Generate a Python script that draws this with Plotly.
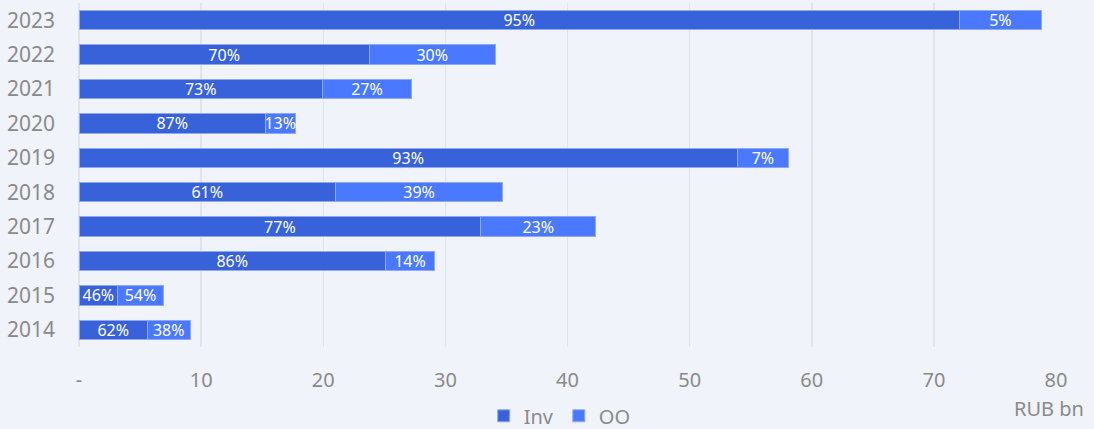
import plotly.graph_objects as go

years = ["2014", "2015", "2016", "2017", "2018", "2019", "2020", "2021", "2022", "2023"]
inv = [5.6, 3.17, 25.1, 32.9, 21.0, 53.9, 15.26, 19.93, 23.77, 72.1]
oo = [3.5, 3.72, 4.0, 9.4, 13.7, 4.2, 2.43, 7.3, 10.3, 6.7]
inv_pct = ["62%", "46%", "86%", "77%", "61%", "93%", "87%", "73%", "70%", "95%"]
oo_pct = ["38%", "54%", "14%", "23%", "39%", "7%", "13%", "27%", "30%", "5%"]
x_ticks = [0, 10, 20, 30, 40, 50, 60, 70, 80]
x_tick_labels = ["-", "10", "20", "30", "40", "50", "60", "70", "80"]

FONT = "Noto Sans"
GRAY = "#8a8a8a"
BG = "#F0F3FA"

fig = go.Figure()
fig.add_trace(go.Bar(
    y=years, x=inv, orientation="h", name="Inv",
    marker=dict(color="#3762D9", line=dict(color="#8FA9F0", width=1)),
    text=inv_pct, textposition="inside", insidetextanchor="middle",
    textfont=dict(color="white", size=16, family=FONT),
    hoverinfo="skip",
))
fig.add_trace(go.Bar(
    y=years, x=oo, orientation="h", name="OO",
    marker=dict(color="#4A78FF", line=dict(color="#8FA9F0", width=1)),
    text=oo_pct, textposition="inside", insidetextanchor="middle",
    textfont=dict(color="white", size=16, family=FONT),
    hoverinfo="skip",
))

fig.update_layout(
    barmode="stack",
    bargap=0.44,
    width=1094, height=429,
    margin=dict(l=78.5, r=37.7, t=3, b=82, autoexpand=False),
    paper_bgcolor=BG,
    plot_bgcolor=BG,
    font=dict(family=FONT, color=GRAY, size=20),
    uniformtext=dict(minsize=16, mode="show"),
    showlegend=True,
    legend=dict(orientation="h", x=0.492, xanchor="center", y=-0.2, yanchor="middle",
                font=dict(size=20, color=GRAY, family=FONT), bgcolor="rgba(0,0,0,0)",
                itemwidth=30, traceorder="normal"),
    xaxis=dict(range=[0, 80], tickvals=x_ticks, ticktext=x_tick_labels,
               showgrid=True, gridcolor="#E2E4E8", gridwidth=1.5,
               zeroline=True, zerolinecolor="#E2E4E8", zerolinewidth=1.5,
               ticklabelstandoff=19, tickfont=dict(size=20, color=GRAY),
               showline=False, fixedrange=True, automargin=False),
    yaxis=dict(categoryorder="array", categoryarray=years,
               tickfont=dict(size=21, color=GRAY), ticklabelstandoff=23,
               showgrid=False, showline=False, automargin=False, fixedrange=True),
    annotations=[dict(text="RUB bn", xref="paper", yref="paper", x=1.031, y=-0.178,
                      xanchor="right", yanchor="middle", showarrow=False,
                      font=dict(size=20, color=GRAY, family=FONT))],
)

fig.write_html("out.html", config={"displayModeBar": False, "staticPlot": True},
               post_script="document.body.style.margin='0px';document.body.style.background='%s';" % BG)
